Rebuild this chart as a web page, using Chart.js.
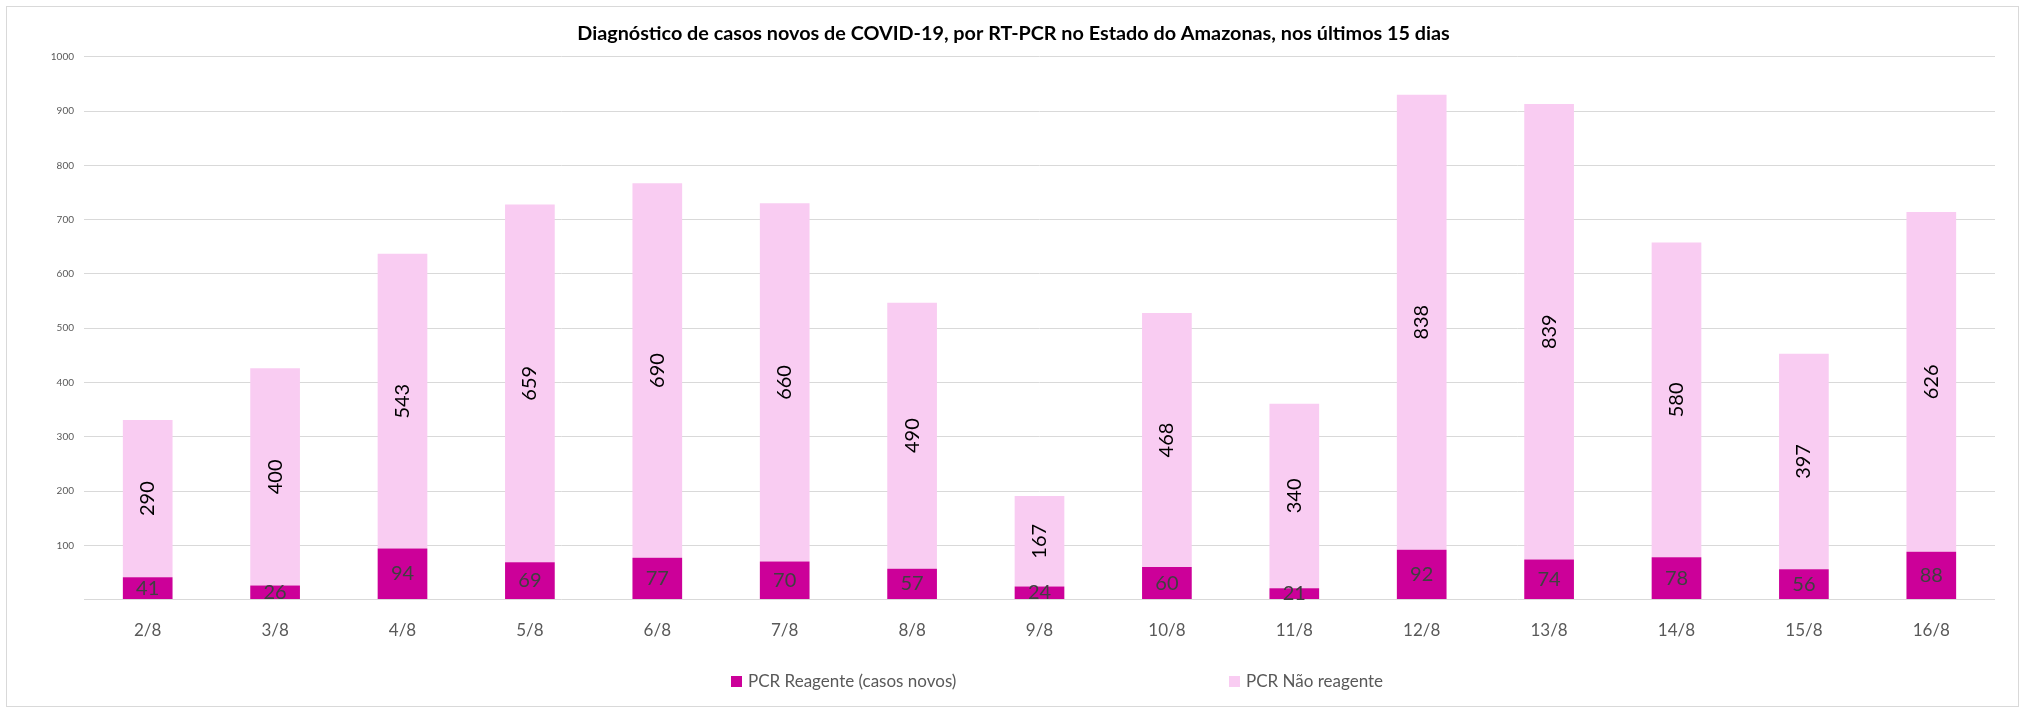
<!DOCTYPE html>
<html lang="pt">
<head>
    <meta charset="UTF-8">
    <title>Diagnóstico de casos novos de COVID-19</title>
    <script src="https://cdn.jsdelivr.net/npm/chart.js"></script>
    <style>
        body {
            margin: 0;
            background: #fff;
            font-family: 'Lato', sans-serif;
        }
        .frame {
            position: absolute;
            left: 6px;
            top: 6px;
            width: 2013px;
            height: 701px;
            border: 1px solid #d9d9d9;
            box-sizing: border-box;
        }
        .chart-box {
            position: absolute;
            left: 0;
            top: 0;
            width: 2027px;
            height: 713px;
        }
        .legend-item {
            position: absolute;
            top: 670px;
            font-size: 17px;
            color: #595959;
            line-height: 22px;
            white-space: nowrap;
        }
        .legend-item span {
            display: inline-block;
            width: 11px;
            height: 11px;
            margin-right: 6px;
            vertical-align: 0px;
        }
    </style>
</head>
<body>
    <div class="frame"></div>
    <div class="chart-box"><canvas id="casesChart"></canvas></div>
    <div class="legend-item" style="left:731px"><span style="background:#cc0099"></span>PCR Reagente (casos novos)</div>
    <div class="legend-item" style="left:1229px"><span style="background:#f9ccf2"></span>PCR Não reagente</div>

    <script>
        // dados
        const days = ['2/8', '3/8', '4/8', '5/8', '6/8', '7/8', '8/8', '9/8', '10/8', '11/8', '12/8', '13/8', '14/8', '15/8', '16/8'];
        const reagente = [41, 26, 94, 69, 77, 70, 57, 24, 60, 21, 92, 74, 78, 56, 88];
        const naoReagente = [290, 400, 543, 659, 690, 660, 490, 167, 468, 340, 838, 839, 580, 397, 626];

        // rótulos de valor dentro das barras
        const barLabels = {
            id: 'barLabels',
            afterDatasetsDraw(chart) {
                const ctx = chart.ctx;
                chart.data.datasets.forEach((ds, di) => {
                    const meta = chart.getDatasetMeta(di);
                    meta.data.forEach((bar, i) => {
                        const cy = (bar.y + bar.base) / 2;
                        ctx.save();
                        ctx.font = '20px Lato, sans-serif';
                        ctx.textAlign = 'center';
                        ctx.textBaseline = 'middle';
                        if (di === 0) {
                            ctx.fillStyle = '#404040';
                            ctx.fillText(ds.data[i], bar.x, cy);
                        } else {
                            ctx.fillStyle = '#000';
                            ctx.translate(bar.x, cy);
                            ctx.rotate(-Math.PI / 2);
                            ctx.fillText(ds.data[i], 0, 0);
                        }
                        ctx.restore();
                    });
                });
            }
        };

        new Chart(document.getElementById('casesChart'), {
            type: 'bar',
            data: {
                labels: days,
                datasets: [
                    {
                        label: 'PCR Reagente (casos novos)',
                        data: reagente,
                        backgroundColor: '#cc0099',
                        categoryPercentage: 1,
                        barPercentage: 0.39
                    },
                    {
                        label: 'PCR Não reagente',
                        data: naoReagente,
                        backgroundColor: '#f9ccf2',
                        categoryPercentage: 1,
                        barPercentage: 0.39
                    }
                ]
            },
            options: {
                responsive: true,
                maintainAspectRatio: false,
                animation: false,
                layout: {
                    padding: { left: 32, right: 32, top: 0, bottom: 59 }
                },
                plugins: {
                    legend: { display: false },
                    tooltip: { enabled: false },
                    title: {
                        display: true,
                        text: 'Diagnóstico de casos novos de COVID-19, por RT-PCR no Estado do Amazonas, nos últimos 15 dias',
                        color: '#000',
                        font: { family: 'Lato', size: 19.8, weight: 'bold' },
                        padding: { top: 22, bottom: 11 }
                    }
                },
                scales: {
                    x: {
                        stacked: true,
                        grid: { display: false },
                        border: { display: false },
                        ticks: {
                            color: '#595959',
                            font: { family: 'Lato', size: 17 },
                            padding: 13
                        }
                    },
                    y: {
                        stacked: true,
                        min: 0,
                        max: 1000,
                        afterFit(scale) { scale.width = 52; },
                        grid: { color: '#d9d9d9', drawTicks: false },
                        border: { display: false },
                        ticks: {
                            stepSize: 100,
                            color: '#595959',
                            padding: 10,
                            font: { family: 'Lato', size: 10 },
                            callback: v => v === 0 ? '' : v
                        }
                    }
                }
            },
            plugins: [barLabels]
        });
    </script>
</body>
</html>
